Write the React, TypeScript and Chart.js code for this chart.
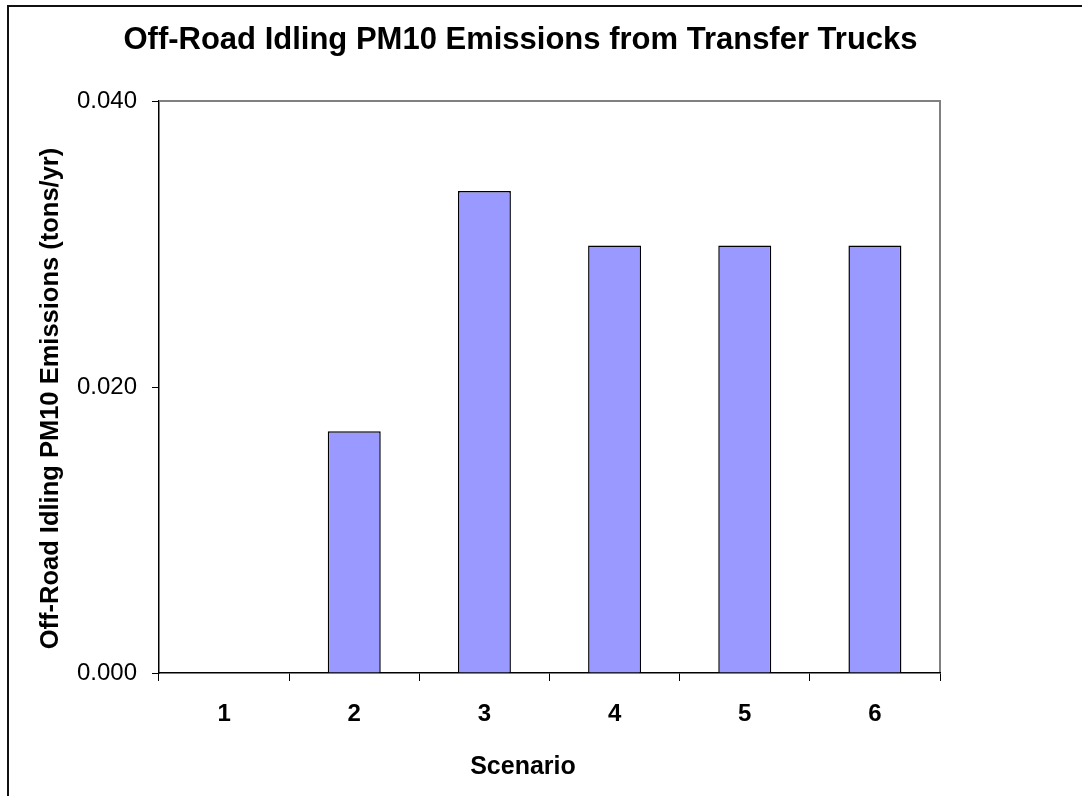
import React, { useEffect, useRef } from "react";
import { Chart, registerables } from "chart.js";

Chart.register(...registerables);

const categories = ["1", "2", "3", "4", "5", "6"];
const emissions = [0, 0.0169, 0.0337, 0.0299, 0.0299, 0.0299];
const yTickValues = [0, 0.02, 0.04];
const chartTitle = "Off-Road Idling PM10 Emissions from Transfer Trucks";
const yAxisTitle = "Off-Road Idling PM10 Emissions (tons/yr)";
const xAxisTitle = "Scenario";

const FONT = '"Liberation Sans", Arial, Helvetica, sans-serif';

const decorPlugin = {
  id: "decor",
  beforeDraw(chart: any) {
    const { ctx, width, height } = chart;
    ctx.save();
    ctx.fillStyle = "#ffffff";
    ctx.fillRect(0, 0, width, height);
    ctx.restore();
  },
  afterDraw(chart: any) {
    const { ctx, chartArea: a, width, height } = chart;
    ctx.save();
    // outer chart border (left & top, cropped elsewhere)
    ctx.fillStyle = "#111111";
    ctx.fillRect(7, 5, 2, height);
    ctx.fillRect(7, 5, width, 2);
    // plot area grey frame (top & right)
    ctx.strokeStyle = "#808080";
    ctx.lineWidth = 2;
    ctx.beginPath();
    ctx.moveTo(a.left + 1, a.top);
    ctx.lineTo(a.right, a.top);
    ctx.lineTo(a.right, a.bottom - 1);
    ctx.stroke();

    ctx.fillStyle = "#000000";
    // main title
    ctx.font = `bold 31px ${FONT}`;
    ctx.textAlign = "center";
    ctx.textBaseline = "alphabetic";
    ctx.fillText(chartTitle, 520.5, 49);
    // x axis title
    ctx.font = `bold 25px ${FONT}`;
    ctx.fillText(xAxisTitle, 523, 774);
    // y axis title
    ctx.font = `bold 25.5px ${FONT}`;
    ctx.translate(58, 398.5);
    ctx.rotate(-Math.PI / 2);
    ctx.fillText(yAxisTitle, 0, 0);
    ctx.restore();
  },
};

export default function App() {
  const canvasRef = useRef<HTMLCanvasElement | null>(null);

  useEffect(() => {
    const canvas = canvasRef.current;
    if (!canvas) return;
    const chart = new Chart(canvas, {
      type: "bar",
      data: {
        labels: categories,
        datasets: [
          {
            data: emissions,
            backgroundColor: "#9999FF",
            borderColor: "#000000",
            borderWidth: 1.5,
            barPercentage: 0.407,
            categoryPercentage: 1,
          },
        ],
      },
      options: {
        responsive: false,
        animation: false,
        events: [],
        layout: { padding: { left: 0, top: 101, right: 142, bottom: 0 } },
        plugins: {
          legend: { display: false },
          title: { display: false },
          tooltip: { enabled: false },
        },
        scales: {
          x: {
            offset: true,
            grid: {
              display: true,
              offset: true,
              drawOnChartArea: false,
              drawTicks: true,
              tickLength: 8,
              color: "#000000",
              lineWidth: 1,
            },
            border: { display: true, color: "#000000", width: 1.5 },
            ticks: {
              color: "#000000",
              padding: 19,
              font: { family: FONT, size: 24, weight: "bold" },
              maxRotation: 0,
            },
            afterFit: (scale: any) => {
              scale.height = 123;
            },
          },
          y: {
            min: 0,
            max: 0.04,
            grid: {
              display: true,
              drawOnChartArea: false,
              drawTicks: true,
              tickLength: 7,
              color: "#000000",
              lineWidth: 1,
            },
            border: { display: true, color: "#000000", width: 1.5 },
            ticks: {
              color: "#000000",
              padding: 15,
              font: { family: FONT, size: 24 },
              callback: (v: any) => Number(v).toFixed(3),
            },
            afterBuildTicks: (scale: any) => {
              scale.ticks = yTickValues.map((v) => ({ value: v }));
            },
            afterFit: (scale: any) => {
              scale.width = 159;
            },
          },
        },
      },
      plugins: [decorPlugin],
    });
    return () => chart.destroy();
  }, []);

  return (
    <canvas
      ref={canvasRef}
      width={1082}
      height={796}
      style={{ position: "fixed", left: 0, top: 0, width: 1082, height: 796, display: "block" }}
    />
  );
}
